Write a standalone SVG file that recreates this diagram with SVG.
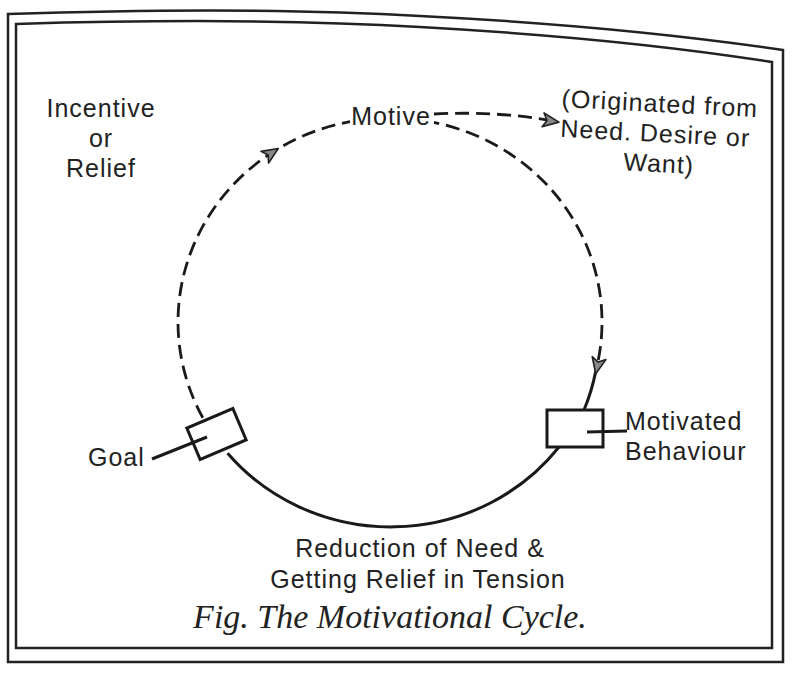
<svg xmlns="http://www.w3.org/2000/svg" width="795" height="673" viewBox="0 0 795 673">
<style>
.t{font-family:"Liberation Sans",Arial,sans-serif;font-size:25px;fill:#222;letter-spacing:1px}
.cap{font-family:"Liberation Serif","Times New Roman",serif;font-style:italic;font-size:34px;fill:#222}
.solid{fill:none;stroke:#1a1a1a;stroke-width:3}
.dash{fill:none;stroke:#1a1a1a;stroke-width:2.8;stroke-dasharray:14 7}
.frame{fill:none;stroke:#222;stroke-width:2.5}
.box{fill:#fff;stroke:#1a1a1a;stroke-width:3}
.arr{fill:#888;stroke:#222;stroke-width:1.6;stroke-linejoin:round}
</style>
<defs>
<path id="ah" d="M8,0 L-8,-7 L-4,0 L-8,7 Z"/>
</defs>
<rect width="795" height="673" fill="#fff"/>
<g id="frame">
<path class="frame" d="M8,14 Q250,6 420,16 Q620,26 783,50 L783,662 L8,662 Z"/>
<path class="frame" d="M16,24 Q250,17 420,27 Q620,38 772,62 L772,648 L16,648 Z"/>
</g>
<g id="connectors">
<path class="dash" d="M202.8,417.7 A212,204 0 1 1 595.7,371.4"/>
<path class="solid" d="M595.7,371.4 A212,204 0 0 1 584,410"/>
<path class="solid" d="M559,447 A212,204 0 0 1 227.6,453.2"/>
<path class="dash" d="M434,114 Q495,111 548,120"/>
<use href="#ah" class="arr" transform="translate(271.5,152.9) rotate(-33)"/>
<use href="#ah" class="arr" transform="translate(597.4,366) rotate(102)"/>
<use href="#ah" class="arr" transform="translate(551,121) rotate(8)"/>
</g>
<g id="motive">
<rect x="350" y="103" width="84" height="26" fill="#fff"/>
<text class="t" x="391" y="125" text-anchor="middle">Motive</text>
</g>
<g id="incentive">
<text class="t" x="101" y="117" text-anchor="middle">Incentive</text>
<text class="t" x="101" y="147" text-anchor="middle">or</text>
<text class="t" x="101" y="177" text-anchor="middle">Relief</text>
</g>
<g id="origin" transform="rotate(3 658 140)">
<text class="t" x="658" y="112" text-anchor="middle">(Originated from</text>
<text class="t" x="655" y="142" text-anchor="middle">Need. Desire or</text>
<text class="t" x="660" y="172" text-anchor="middle">Want)</text>
</g>
<g id="goal">
<rect class="box" x="-25" y="-17" width="50" height="34" transform="translate(216.5,434) rotate(-23)"/>
<path class="solid" d="M152,459 L207,437"/>
<text class="t" x="88" y="466">Goal</text>
</g>
<g id="behaviour">
<rect class="box" x="547" y="410" width="56" height="37"/>
<path class="solid" d="M587,432 L627,431"/>
<text class="t" x="625" y="430" letter-spacing="0.4">Motivated</text>
<text class="t" x="625" y="460" letter-spacing="0.4">Behaviour</text>
</g>
<g id="reduction">
<text class="t" x="420" y="557" text-anchor="middle">Reduction of Need &amp;</text>
<text class="t" x="418" y="588" text-anchor="middle">Getting Relief in Tension</text>
</g>
<text class="cap" x="390" y="628" text-anchor="middle">Fig. The Motivational Cycle.</text>
</svg>
